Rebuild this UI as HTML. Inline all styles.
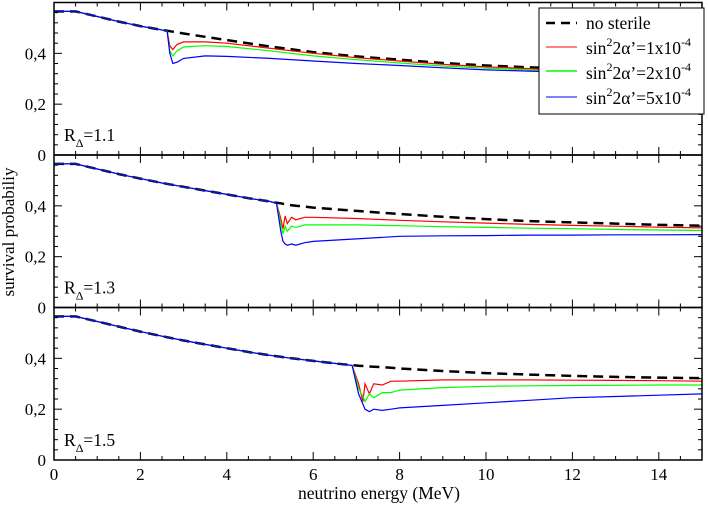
<!DOCTYPE html>
<html><head><meta charset="utf-8"><style>
body{margin:0;background:#fff}
svg{display:block;font-family:"Liberation Serif",serif}
</style></head><body>
<svg id="chart" width="708" height="505" viewBox="0 0 708 505" xmlns="http://www.w3.org/2000/svg">
<g id="plots"></g>
<text x="0" y="0" font-size="17" text-anchor="middle" transform="translate(14,232) rotate(-90)">survival probabiliy</text>
<text x="379" y="499" font-size="17.5" text-anchor="middle">neutrino energy (MeV)</text>
<g>
<rect x="539" y="8" width="165" height="106" fill="#fff" stroke="#000" stroke-width="1"/>
<line x1="546" y1="23" x2="577" y2="23" stroke="#000" stroke-width="2.5" stroke-dasharray="9,6"/>
<text x="586" y="29" font-size="17.5">no sterile</text>
<line x1="546" y1="47" x2="577" y2="47" stroke="#f00" stroke-width="1"/>
<text x="586" y="54" font-size="17.5">sin<tspan dy="-8" font-size="12">2</tspan><tspan dy="8">2α’=1x10</tspan><tspan dy="-8" font-size="12">-4</tspan></text>
<line x1="546" y1="71" x2="577" y2="71" stroke="#0f0" stroke-width="1.5"/>
<text x="586" y="79" font-size="17.5">sin<tspan dy="-8" font-size="12">2</tspan><tspan dy="8">2α’=2x10</tspan><tspan dy="-8" font-size="12">-4</tspan></text>
<line x1="546" y1="97" x2="577" y2="97" stroke="#00f" stroke-width="1"/>
<text x="586" y="104" font-size="17.5">sin<tspan dy="-8" font-size="12">2</tspan><tspan dy="8">2α’=5x10</tspan><tspan dy="-8" font-size="12">-4</tspan></text>
</g>
</svg>
<script>
const xTicks=[0,2,4,6,8,10,12,14];
const yTicks=[0,0.2,0.4];
const yTickLabels=["0","0,2","0,4"];
const panelLabels=["1.1","1.3","1.5"];
const e1=[0,0.5,1,1.5,2,2.5,2.62,2.68,2.75,2.85,3,3.5,4,5,6,7,8,9,10,11,12,13,14,15];
const ns1=[.565,.565,.545,.525,.507,.492,.489,.487,.485,.482,.478,.465,.452,.427,.405,.388,.375,.362,.352,.345,.340,.335,.332,.330];
const red1=[.565,.565,.545,.525,.507,.492,.487,.43,.415,.435,.445,.445,.44,.42,.40,.383,.37,.357,.347,.34,.334,.33,.327,.325];
const green1=[.565,.565,.545,.525,.507,.492,.486,.41,.39,.41,.425,.43,.427,.41,.39,.375,.362,.35,.342,.335,.33,.326,.322,.32];
const blue1=[.565,.565,.545,.525,.507,.492,.485,.40,.36,.365,.38,.39,.388,.38,.37,.36,.352,.343,.335,.33,.325,.32,.317,.315];
const e2=[0,0.5,1,1.5,2,2.5,3,3.5,4,4.5,5,5.15,5.25,5.3,5.35,5.4,5.5,5.6,5.8,6,7,8,9,10,11,12,13,14,15];
const ns2=[.565,.565,.545,.525,.507,.49,.475,.46,.445,.43,.417,.412,.41,.408,.406,.405,.402,.40,.397,.393,.38,.368,.357,.348,.340,.335,.33,.325,.322];
const red2=[.565,.565,.545,.525,.507,.49,.475,.46,.445,.43,.417,.41,.35,.31,.36,.33,.355,.345,.355,.355,.35,.343,.337,.332,.327,.323,.32,.316,.313];
const green2=[.565,.565,.545,.525,.507,.49,.475,.46,.445,.43,.417,.41,.33,.29,.32,.30,.32,.315,.325,.325,.325,.322,.318,.315,.312,.31,.307,.305,.303];
const blue2=[.565,.565,.545,.525,.507,.49,.475,.46,.445,.43,.417,.41,.30,.26,.25,.245,.25,.245,.255,.26,.27,.28,.282,.283,.285,.285,.286,.286,.287];
const e3=[0,0.5,1,1.5,2,2.5,3,3.5,4,4.5,5,5.5,6,6.5,6.9,7.05,7.15,7.2,7.3,7.4,7.6,7.8,8,9,10,11,12,13,14,15];
const ns3=[.565,.565,.545,.525,.505,.487,.47,.455,.44,.425,.412,.40,.39,.38,.373,.371,.37,.369,.368,.367,.365,.363,.36,.35,.342,.336,.331,.327,.324,.322];
const red3=[.565,.565,.545,.525,.505,.487,.47,.455,.44,.425,.412,.40,.39,.38,.372,.30,.23,.30,.26,.30,.295,.31,.31,.315,.315,.315,.314,.313,.312,.31];
const green3=[.565,.565,.545,.525,.505,.487,.47,.455,.44,.425,.412,.40,.39,.38,.372,.28,.25,.23,.26,.245,.265,.265,.275,.285,.29,.292,.293,.294,.295,.295];
const blue3=[.565,.565,.545,.525,.505,.487,.47,.455,.44,.425,.412,.40,.39,.38,.372,.26,.22,.20,.19,.20,.195,.20,.205,.215,.225,.235,.245,.25,.255,.26];
const panels=[
 {e:e1,s:[ns1,red1,green1,blue1]},
 {e:e2,s:[ns2,red2,green2,blue2]},
 {e:e3,s:[ns3,red3,green3,blue3]}];
const NS="http://www.w3.org/2000/svg";
const X0=54,X1=702,PH=152.5,TOP=2.5;
const xs=v=>X0+(X1-X0)*v/15;
const g=document.getElementById('plots');
function mk(tag,at,parent){const el=document.createElementNS(NS,tag);for(const k in at)el.setAttribute(k,at[k]);(parent||g).appendChild(el);return el;}
const colors=["#000","#f00","#0f0","#00f"];
const snames=["no-sterile-line","red-line-1e-4","green-line-2e-4","blue-line-5e-4"];
panels.forEach((p,i)=>{
 const top=TOP+i*PH,bot=top+PH;
 const ys=v=>bot-v*PH/0.6;
 const pg=mk('g',{});
 
 
 for(let k=0;k<4;k++){
  const d=p.e.map((e,j)=>(j?'L':'M')+xs(e).toFixed(1)+','+ys(p.s[k][j]).toFixed(1)).join('');
  const path=mk('path',{d:d,fill:'none',stroke:colors[k],'stroke-width':k==0?2.5:1.2,'stroke-dasharray':k==0?'10,6':'none'},pg);
  
  
 }
 mk('rect',{x:X0,y:top,width:X1-X0,height:PH,fill:'none',stroke:'#000','stroke-width':1.5},pg);
 for(let m=0;m<=30;m++){
  const x=xs(m*0.5),L=m%4==0?8:4;
  mk('line',{x1:x,y1:bot,x2:x,y2:bot-L,stroke:'#000','stroke-width':1},pg);
  mk('line',{x1:x,y1:top,x2:x,y2:top+L,stroke:'#000','stroke-width':1},pg);
 }
 for(let m=0;m<15;m++){
  const y=ys(m*0.04),L=m%5==0?8:4;
  mk('line',{x1:X0,y1:y,x2:X0+L,y2:y,stroke:'#000','stroke-width':1},pg);
  mk('line',{x1:X1,y1:y,x2:X1-L,y2:y,stroke:'#000','stroke-width':1},pg);
 }
 yTicks.forEach((v,j)=>{
  const t=mk('text',{x:46,y:ys(v)+6,'font-size':17,'text-anchor':'end'},pg);t.textContent=yTickLabels[j];
  
  
 });
 const lab=mk('text',{x:64,y:bot-14,'font-size':17.5},pg);
 
 
 lab.innerHTML='R<tspan dy="6" font-size="12">Δ</tspan><tspan dy="-6">='+panelLabels[i]+'</tspan>';
});
xTicks.forEach(v=>{
 const t=mk('text',{x:xs(v),y:480,'font-size':17,'text-anchor':'middle'});t.textContent=v;
 
 
});
</script>
</body></html>
